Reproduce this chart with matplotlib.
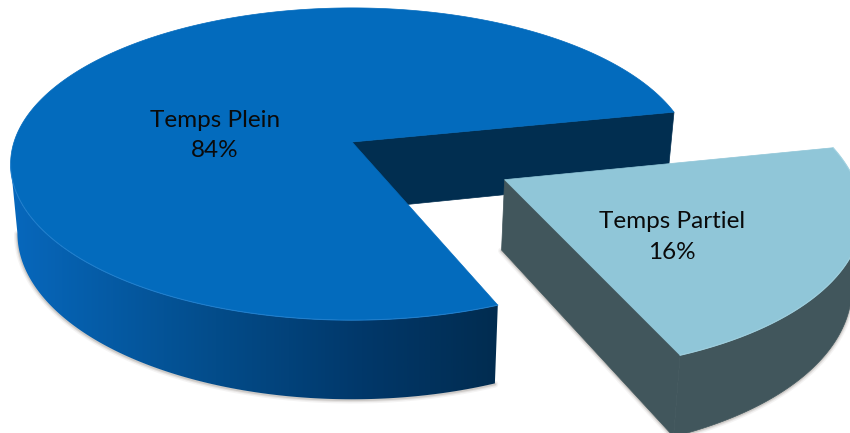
#!/usr/bin/env python3
import numpy as np
import matplotlib
matplotlib.use('Agg')
import matplotlib.pyplot as plt
from matplotlib.colors import LinearSegmentedColormap
from matplotlib.patches import Polygon

labels = ['Temps Plein', 'Temps Partiel']
shares = [84, 16]

plt.rcParams['font.family'] = ['Lato', 'DejaVu Sans']

# projection of the pie's unit disc onto the canvas (pixels)
apex_x, apex_y = 352., 142.
scale_x, scale_y = 338., 153.
persp = 0.141
depth = 68.
floor_shrink = 0.98

# direction of the detached slice, and how the angles open up when tilted
mid_angle = np.radians(-28.2)
warp = np.radians(13.)
explode = 0.497
explode_dir = np.radians(-28.6)

side_blue = LinearSegmentedColormap.from_list(
    'side_blue', [(0., '#0768bd'), (0.42, '#034c8a'), (0.72, '#01386a'), (1., '#012c50')])


def warped(theta):
    return theta + warp*np.sin(2*(theta - mid_angle))


def project(u, v, floor=False):
    f = 1./(1. + persp*v)
    x = apex_x + scale_x*u*f
    y = apex_y - scale_y*v*f
    if floor:
        x = apex_x + (x - apex_x)*floor_shrink
        y = y + depth*f
    return x, y


def rim(theta, off=(0., 0.), floor=False):
    phi = warped(theta)
    return project(np.cos(phi) + off[0], np.sin(phi) + off[1], floor)


def draw_shadow(ax, x, y):
    for lw, alpha in ((5., .07), (3., .12), (1.5, .18)):
        ax.plot(x, y + .8, color='#6b6258', lw=lw, alpha=alpha,
                solid_capstyle='round', zorder=1)


fig = plt.figure(figsize=(8.5, 4.33), dpi=100)
ax = fig.add_axes([0, 0, 1, 1])

half_sweep = np.radians(shares[1]*3.6)/2
upper = mid_angle + half_sweep
lower = mid_angle - half_sweep

# big slice: outer wall with its gradient, cut wall behind the gap, top face
theta = np.linspace(upper, lower + 2*np.pi, 600)
xt, yt = rim(theta)
xb, yb = rim(theta, floor=True)
a = project(0., 0.)
b = project(0., 0., floor=True)

# only the part of the rim past the leftmost point faces the viewer
left = np.argmin(xt)
draw_shadow(ax, xb[left:], yb[left:])

band = Polygon(np.vstack([np.c_[xt, yt][left:], np.c_[xb, yb][left:][::-1]]),
               fc='none', ec='none')
ax.add_patch(band)
grad = ax.imshow(np.linspace(0, 1, 256)[None, :], cmap=side_blue, aspect='auto',
                 extent=(10, 499, 433, 0), zorder=2)
grad.set_clip_path(band)

ax.add_patch(Polygon([a, (xt[0], yt[0]), (xb[0], yb[0]), b],
                     fc='#012e50', ec='#012e50', lw=.5, zorder=3))
ax.add_patch(Polygon(np.vstack([[a], np.c_[xt, yt]]),
                     fc='#036bbd', ec='#036bbd', lw=.5, zorder=4))
ax.plot(xt[left:], yt[left:], color='#2a86d4', lw=.8, alpha=.6, zorder=5)

# detached slice, moved along its bisector in the disc plane
off = (explode*np.cos(explode_dir), explode*np.sin(explode_dir))
theta = np.linspace(lower, upper, 200)
xt, yt = rim(theta, off)
xb, yb = rim(theta, off, floor=True)
a = project(off[0], off[1])
b = project(off[0], off[1], floor=True)

right = np.argmax(xt) + 1
draw_shadow(ax, xb[:right], yb[:right])
draw_shadow(ax, np.array([b[0], xb[0]]), np.array([b[1], yb[0]]))

ax.add_patch(Polygon(np.vstack([np.c_[xt, yt][:right], np.c_[xb, yb][:right][::-1]]),
                     fc='#41565c', ec='#41565c', lw=.5, zorder=6))
ax.add_patch(Polygon([a, (xt[0], yt[0]), (xb[0], yb[0]), b],
                     fc='#41565c', ec='#41565c', lw=.5, zorder=7))
ax.add_patch(Polygon(np.vstack([[a], np.c_[xt, yt]]),
                     fc='#90c6d8', ec='#90c6d8', lw=.5, zorder=8))
ax.plot(xt, yt, color='#a8d6e4', lw=.8, alpha=.7, zorder=9)

ax.text(215, 135.5, '%s\n%d%%' % (labels[0], shares[0]), ha='center', va='center',
        fontsize=17.5, color='#0a0a0a', linespacing=1.55, zorder=10)
ax.text(672, 237, '%s\n%d%%' % (labels[1], shares[1]), ha='center', va='center',
        fontsize=17.5, color='#0a0a0a', linespacing=1.55, zorder=10)

ax.set_xlim(0, 850)
ax.set_ylim(433, 0)
ax.axis('off')

fig.savefig('out.png', dpi=100, facecolor='white')
